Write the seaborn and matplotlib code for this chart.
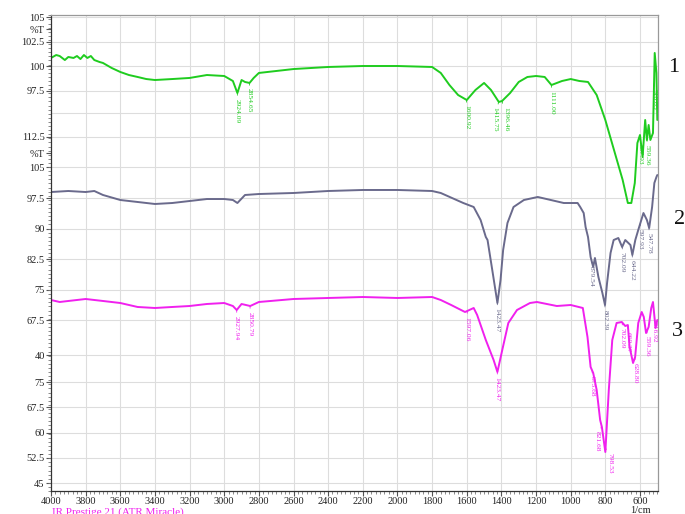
import numpy as np
import pandas as pd
import matplotlib
matplotlib.use("Agg")
import matplotlib.pyplot as plt
import seaborn as sns
from matplotlib.ticker import MultipleLocator, FixedLocator

# --- spectrum 1 (green), wavenumber in 1/cm, transmittance in %T
wn_1 = [4000, 3970, 3950, 3920, 3900, 3870, 3850, 3830, 3810, 3790, 3770, 3750, 3720, 3700,
        3650, 3600, 3550, 3500, 3450, 3400, 3300, 3200, 3100, 3000, 2950, 2924, 2900, 2880,
        2854, 2830, 2800, 2600, 2400, 2200, 2000, 1800, 1750, 1700, 1650, 1600, 1550, 1500,
        1460, 1415, 1396, 1350, 1300, 1250, 1200, 1150, 1111, 1050, 1000, 950, 900, 850, 800,
        750, 700, 670, 650, 630, 615, 600, 585, 570, 560, 550, 540, 525, 515, 505, 500]
t_1 = [100.82, 101.12, 101.02, 100.61, 100.92, 100.82, 101.02, 100.71, 101.12, 100.82, 101.02,
       100.61, 100.41, 100.31, 99.80, 99.39, 99.08, 98.88, 98.67, 98.57, 98.67, 98.78, 99.08,
       98.98, 98.47, 97.24, 98.57, 98.37, 98.27, 98.78, 99.29, 99.69, 99.90, 100.0, 100.0, 99.90,
       99.29, 98.06, 97.04, 96.53, 97.55, 98.27, 97.55, 96.33, 96.43, 97.24, 98.37, 98.88, 98.98,
       98.88, 98.06, 98.47, 98.67, 98.47, 98.37, 97.04, 94.49, 91.43, 88.37, 86.02, 86.02, 88.06,
       92.14, 92.96, 90.71, 94.49, 92.45, 93.98, 92.45, 93.16, 101.33, 99.29, 94.49]

# --- spectrum 2 (grey-violet)
wn_2 = [4000, 3900, 3800, 3750, 3700, 3600, 3500, 3400, 3300, 3200, 3100, 3000, 2950, 2924,
        2880, 2800, 2600, 2400, 2200, 2000, 1800, 1750, 1620, 1560, 1520, 1490, 1480, 1450,
        1423, 1405, 1390, 1365, 1330, 1270, 1190, 1115, 1040, 960, 945, 925, 914, 900, 885,
        870, 860, 840, 817, 802, 790, 770, 752, 725, 703, 685, 655, 644, 627, 610, 580, 560,
        547, 530, 517, 505, 500]
t_2 = [98.97, 99.22, 98.97, 99.22, 98.24, 97.01, 96.52, 96.03, 96.27, 96.76, 97.25, 97.25,
       97.01, 96.27, 98.24, 98.48, 98.73, 99.22, 99.47, 99.47, 99.22, 98.73, 96.27, 95.29,
       92.09, 87.92, 87.18, 79.07, 71.70, 77.35, 84.72, 91.36, 95.29, 97.01, 97.75, 97.01,
       96.27, 96.27, 95.29, 93.81, 90.37, 87.92, 83.00, 80.55, 82.76, 78.09, 74.16, 71.21,
       76.62, 83.99, 87.18, 87.67, 85.46, 87.18, 85.95, 83.50, 87.18, 89.64, 93.81, 92.09,
       90.13, 95.29, 101.19, 102.66, 103.15]

# --- spectrum 3 (magenta)
wn_3 = [4000, 3950, 3900, 3800, 3700, 3600, 3500, 3400, 3300, 3200, 3100, 3000, 2950, 2928,
        2900, 2850, 2800, 2600, 2400, 2200, 2000, 1800, 1750, 1690, 1610, 1560, 1540, 1490,
        1445, 1423, 1395, 1360, 1310, 1235, 1195, 1080, 1000, 930, 903, 885, 870, 850, 830,
        820, 800, 780, 760, 735, 705, 685, 670, 660, 640, 628, 610, 590, 578, 565, 550, 535,
        525, 510, 500]
t_3 = [99.33, 98.74, 99.04, 99.63, 99.04, 98.44, 97.26, 96.96, 97.26, 97.55, 98.15, 98.44,
       97.55, 96.36, 98.15, 97.55, 98.74, 99.63, 99.93, 100.22, 99.93, 100.22, 99.33, 97.85,
       95.77, 96.96, 94.88, 87.46, 81.53, 77.97, 84.50, 92.51, 96.36, 98.44, 98.74, 97.55,
       97.85, 96.96, 88.35, 79.45, 77.67, 72.63, 63.72, 61.65, 54.23, 72.63, 87.46, 92.51,
       92.80, 91.62, 91.91, 85.39, 80.64, 82.42, 92.51, 95.77, 94.29, 89.54, 91.32, 96.96,
       98.74, 91.02, 93.40]

# peak picks printed under each trace
peaks_1 = [2924.09, 2854.65, 1600.92, 1415.75, 1396.46, 1111.00, 597.93, 559.36, 518.85]
peaks_2 = [1423.47, 879.54, 802.39, 702.09, 644.22, 597.93, 547.78]
peaks_3 = [2927.94, 2850.79, 1597.06, 1423.47, 875.68, 821.68, 798.53, 702.09, 669.37,
           628.80, 559.36, 516.92]

# left axis labels of each stacked panel
ylabels_1 = [105, 102.5, 100, 97.5]
ylabels_2 = [112.5, 105, 97.5, 90, 82.5, 75, 67.5]
ylabels_3 = [75, 67.5, 60, 52.5, 45]

colors = ["#1fcc1f", "#6a6a8c", "#f020ee"]

# each panel: (%T reference, pixel row of reference, pixels per %T); axis units = -pixel row
panels = [(100, 66, 9.8), (97.5, 198, 4.07), (75, 382, 3.37)]


def to_axis(t, p):
    t0, row, s = panels[p]
    return (np.asarray(t, dtype=float) - t0) * s - row


sns.set_style("white")
plt.rcParams["font.family"] = ["Liberation Serif", "DejaVu Serif"]

fig = plt.figure(figsize=(6.85, 5.14), dpi=100)
ax = fig.add_axes([51 / 685, 1 - 491 / 514, 607 / 685, 476 / 514])

frames = []
for i, (w, t) in enumerate([(wn_1, t_1), (wn_2, t_2), (wn_3, t_3)]):
    frames.append(pd.DataFrame({"wn": w, "y": to_axis(t, i), "trace": str(i + 1)}))
df = pd.concat(frames, ignore_index=True)

sns.lineplot(data=df, x="wn", y="y", hue="trace", palette=colors, linewidth=1.4,
             legend=False, ax=ax, estimator=None, sort=True)

# peak labels, close pairs are fanned apart a little
for i, (w, t, pk) in enumerate([(wn_1, t_1, peaks_1), (wn_2, t_2, peaks_2), (wn_3, t_3, peaks_3)]):
    for j, p in enumerate(pk):
        tv = np.interp(p, w[::-1], t[::-1])
        dx = 0
        if j + 1 < len(pk) and p - pk[j + 1] < 30:
            dx = -3
        elif j > 0 and pk[j - 1] - p < 30:
            dx = 3
        ax.annotate(f"{p:.2f}", xy=(p, to_axis(tv, i)), xytext=(dx, -4), textcoords="offset points",
                    rotation=270, ha="center", va="top", fontsize=5.4, color=colors[i],
                    arrowprops=dict(arrowstyle="-", color=colors[i], lw=0.6, shrinkA=0, shrinkB=0))

ax.set_xlim(4000, 496)
ax.set_ylim(-491, -15)

# x axis
ax.xaxis.set_major_locator(MultipleLocator(200))
ax.xaxis.set_minor_locator(MultipleLocator(25))
ax.set_xlabel("")
ax.set_ylabel("")

# y axis: stacked panels with their own labels
pos, txt = [], []
for p, labs in enumerate([ylabels_1, ylabels_2, ylabels_3]):
    for v in labs:
        pos.append(float(to_axis(v, p)))
        txt.append(f"{v:g}")
# %T captions and stray label of the composite
extra_pos = [-29, -153, -355]
extra_txt = ["%T", "%T", "40"]
ax.yaxis.set_major_locator(FixedLocator(pos + extra_pos))
ax.set_yticklabels(txt + extra_txt)
ax.yaxis.set_minor_locator(FixedLocator(np.arange(-491, -15, 4.1)))

ax.tick_params(axis="both", which="major", length=3.5, width=0.8, color="#555555",
               labelsize=7.5, labelcolor="#222222", direction="out", pad=1)
ax.tick_params(axis="both", which="minor", length=2, width=0.6, color="#777777", direction="out")
ax.tick_params(axis="x", which="major", pad=0.5)
ax.tick_params(axis="y", which="both", left=True)
ax.tick_params(axis="x", which="both", bottom=True)

for y in pos + [-113, -355]:
    ax.axhline(y, color="#dddddd", lw=0.8, zorder=0)
for x in range(3800, 500, -200):
    ax.axvline(x, color="#dddddd", lw=0.8, zorder=0)

ax.spines["left"].set_color("#333333")
ax.spines["bottom"].set_color("#333333")
ax.spines["top"].set_color("#999999")
ax.spines["right"].set_color("#999999")
for s in ax.spines.values():
    s.set_linewidth(0.9)

# trace numbers on the right
for label, xp, yp in [("1", 668, 68), ("2", 674, 220), ("3", 672, 332)]:
    fig.text(xp / 685, 1 - yp / 514, label, fontsize=16, ha="left", va="center", color="#111111")

fig.text(52 / 685, 1 - 507 / 514, "IR Prestige 21 (ATR Miracle)", fontsize=8, color="#f020ee",
         ha="left", va="top")
fig.text(640 / 685, 1 - 506 / 514, "1/cm", fontsize=7.5, color="#222222", ha="center", va="top")

fig.savefig("out.png", dpi=100)
